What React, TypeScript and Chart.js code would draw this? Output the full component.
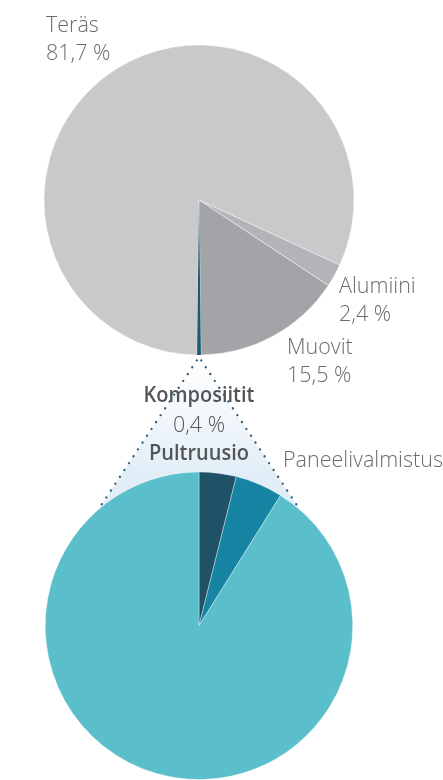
import React, { useEffect, useRef } from 'react';
import { Chart, registerables } from 'chart.js';

Chart.register(...registerables);

// ---- Data ----
const materialLabels = ['Teräs', 'Alumiini', 'Muovit', 'Komposiitit'];
const materialShares = [81.7, 2.4, 15.5, 0.4];
const processLabels = ['Pultruusio', 'Paneelivalmistus', 'Muut'];
const processShares = [3.9, 5.0, 91.1];

// ---- Styles ----
const W = 443;
const H = 780;
const FONT = '"Open Sans", "Noto Sans", sans-serif';
const TEXT_GRAY = '#6a6b6e';
const TEXT_DARK = '#545557';
const materialColors = ['#c8c9cb', '#b3b4b7', '#a3a4a7', '#1e5a72'];
const processColors = ['#1f5167', '#1884a4', '#5bbfcb'];

const fmt = (v: number) => v.toFixed(1).replace('.', ',') + ' %';

type LabelSpec = { x: number; y: number; align: CanvasTextAlign; bold?: boolean; pct?: boolean };

const materialLabelPos: LabelSpec[] = [
  { x: 46, y: 32, align: 'left', pct: true },
  { x: 339, y: 293, align: 'left', pct: true },
  { x: 287, y: 354, align: 'left', pct: true },
  { x: 199, y: 402, align: 'center', bold: true, pct: true },
];
const processLabelPos: (LabelSpec | null)[] = [
  { x: 199, y: 460, align: 'center', bold: true },
  { x: 283, y: 467, align: 'left' },
  null,
];

const LINE_GAP = 28;
const FONT_SIZE = 21.5;
const BOLD_SQUEEZE = 0.93;

function textAt(ctx: CanvasRenderingContext2D, s: string, x: number, y: number, sx: number) {
  ctx.save();
  ctx.translate(x, y);
  ctx.scale(sx, 1);
  ctx.fillText(s, 0, 0);
  ctx.restore();
}

function drawLabels(ctx: CanvasRenderingContext2D, labels: string[], values: number[], pos: (LabelSpec | null)[]) {
  ctx.save();
  ctx.textBaseline = 'alphabetic';
  labels.forEach((lab, i) => {
    const p = pos[i];
    if (!p) return;
    ctx.textAlign = p.align;
    ctx.font = `${p.bold ? 600 : 350} ${FONT_SIZE}px ${FONT}`;
    ctx.fillStyle = p.bold ? TEXT_DARK : TEXT_GRAY;
    textAt(ctx, lab, p.x, p.y, p.bold ? BOLD_SQUEEZE : 1);
    if (p.pct) {
      ctx.font = `350 ${FONT_SIZE}px ${FONT}`;
      ctx.fillStyle = p.bold ? TEXT_DARK : TEXT_GRAY;
      textAt(ctx, fmt(values[i]), p.x, p.y + (p.bold ? 30 : LINE_GAP), 1);
    }
  });
  ctx.restore();
}

const APEX_Y = 357;
const CONNECT_ANGLE = 41; // degrees from top of lower pie

const connectorPlugin = {
  id: 'connector',
  beforeDatasetsDraw(chart: any) {
    const arc = chart.getDatasetMeta(0).data[0];
    if (!arc) return;
    const { x: cx, y: cy, outerRadius: r } = arc.getProps(['x', 'y', 'outerRadius'], true);
    const ctx: CanvasRenderingContext2D = chart.ctx;
    const a = (CONNECT_ANGLE * Math.PI) / 180;
    const lx = cx - r * Math.sin(a);
    const rx = cx + r * Math.sin(a);
    const py = cy - r * Math.cos(a);
    ctx.save();
    const g = ctx.createLinearGradient(0, APEX_Y, 0, cy - r);
    g.addColorStop(0, 'rgba(232,241,248,0)');
    g.addColorStop(1, 'rgba(226,238,247,1)');
    ctx.beginPath();
    ctx.moveTo(cx, APEX_Y);
    ctx.lineTo(lx, py);
    ctx.arc(cx, cy, r, -Math.PI / 2 - a, -Math.PI / 2 + a, false);
    ctx.closePath();
    ctx.fillStyle = g;
    ctx.fill();

    ctx.strokeStyle = '#2b5b74';
    ctx.lineWidth = 2.3;
    ctx.lineCap = 'round';
    ctx.setLineDash([0.01, 8.2]);
    ctx.lineDashOffset = -4;
    [lx, rx].forEach((ex) => {
      ctx.beginPath();
      ctx.moveTo(cx, APEX_Y);
      ctx.lineTo(ex, py);
      ctx.stroke();
    });
    ctx.restore();
  },
  afterDraw(chart: any) {
    drawLabels(chart.ctx, processLabels, processShares, processLabelPos);
  },
};

const materialLabelPlugin = {
  id: 'materialLabels',
  afterDraw(chart: any) {
    drawLabels(chart.ctx, materialLabels, materialShares, materialLabelPos);
  },
};

export default function App() {
  const topRef = useRef<HTMLCanvasElement | null>(null);
  const bottomRef = useRef<HTMLCanvasElement | null>(null);

  useEffect(() => {
    if (!topRef.current || !bottomRef.current) return;
    const kompStart = 180 + (materialShares[3] * 3.6) / 2;
    const top = new Chart(topRef.current, {
      type: 'pie',
      data: {
        labels: materialLabels,
        datasets: [
          {
            data: materialShares,
            backgroundColor: materialColors,
            borderColor: 'rgba(255,255,255,0.45)',
            borderWidth: [1, 1, 1, 0],
          },
        ],
      },
      options: {
        responsive: false,
        maintainAspectRatio: false,
        animation: false,
        rotation: kompStart,
        layout: { padding: { left: 43.5, right: 88.5, top: 44.5, bottom: 424.5 } },
        plugins: { legend: { display: false }, tooltip: { enabled: false } },
        events: [],
      },
      plugins: [materialLabelPlugin],
    });
    const bottom = new Chart(bottomRef.current, {
      type: 'pie',
      data: {
        labels: processLabels,
        datasets: [
          {
            data: processShares,
            backgroundColor: processColors,
            borderColor: 'rgba(255,255,255,0.35)',
            borderWidth: 1,
          },
        ],
      },
      options: {
        responsive: false,
        maintainAspectRatio: false,
        animation: false,
        rotation: 0,
        layout: { padding: { left: 44.5, right: 89.5, top: 471.5, bottom: 0 } },
        plugins: { legend: { display: false }, tooltip: { enabled: false } },
        events: [],
      },
      plugins: [connectorPlugin],
    });
    return () => {
      top.destroy();
      bottom.destroy();
    };
  }, []);

  return (
    <div style={{ position: 'fixed', left: 0, top: 0, width: W, height: H, background: '#ffffff', overflow: 'hidden' }}>
      <canvas ref={bottomRef} width={W} height={H} style={{ position: 'absolute', left: 0, top: 0, width: W, height: H }} />
      <canvas ref={topRef} width={W} height={H} style={{ position: 'absolute', left: 0, top: 0, width: W, height: H }} />
    </div>
  );
}
